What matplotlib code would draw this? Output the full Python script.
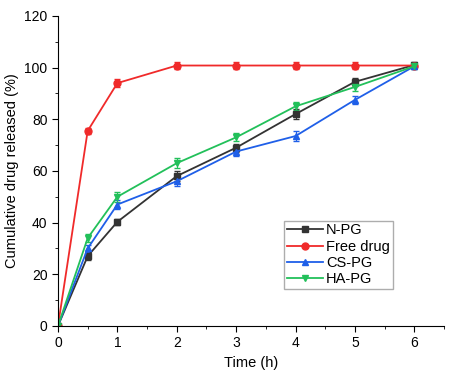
import numpy as np
import matplotlib
matplotlib.use("Agg")
import matplotlib.pyplot as plt
from matplotlib.ticker import MultipleLocator
from matplotlib.lines import Line2D

plt.rcParams['font.family'] = ['Liberation Sans', 'DejaVu Sans']

# release data (time in h, cumulative %)
t = [0, 0.5, 1, 2, 3, 4, 5, 6]
n_pg = [0, 27, 40.3, 58, 69, 82, 94.5, 101]
free_drug = [0, 75.5, 94, 100.8, 100.8, 100.8, 100.8, 100.8]
cs_pg = [0, 30, 47, 56, 67.5, 73.5, 87.5, 100.5]
ha_pg = [0, 34, 50, 63, 73, 85, 92.5, 100.5]

n_err = [0, 1.5, 1.2, 1.8, 1.5, 1.8, 1.5, 1.0]
free_err = [0, 1.2, 1.5, 1.5, 1.2, 1.2, 1.2, 1.0]
cs_err = [0, 1.5, 1.8, 1.8, 1.8, 2.0, 1.5, 1.0]
ha_err = [0, 1.5, 2.0, 2.0, 1.5, 1.5, 1.5, 1.0]

fig = plt.figure(figsize=(4.62, 3.79), dpi=100)
ax = fig.add_axes([0.1255, 0.14, 0.8355, 0.818])

series = [
    (n_pg, n_err, '#333333', 's', 'N-PG'),
    (free_drug, free_err, '#f02a2a', 'o', 'Free drug'),
    (cs_pg, cs_err, '#1f5fe8', '^', 'CS-PG'),
    (ha_pg, ha_err, '#22c05a', 'v', 'HA-PG'),
]
handles = []
for y, e, c, m, lab in series:
    ax.errorbar(t, y, yerr=e, color=c, marker=m, markersize=5, lw=1.3,
                elinewidth=0.8, capsize=2)
    handles.append(Line2D([], [], color=c, marker=m, markersize=5, lw=1.3, label=lab))

ax.set_xlim(0, 6.5)
ax.set_ylim(0, 120)
ax.xaxis.set_major_locator(MultipleLocator(1))
ax.xaxis.set_minor_locator(MultipleLocator(0.5))
ax.yaxis.set_major_locator(MultipleLocator(20))
ax.yaxis.set_minor_locator(MultipleLocator(10))
ax.spines['top'].set_visible(False)
ax.spines['right'].set_visible(False)
ax.tick_params(which='major', direction='out', length=4, labelsize=10)
ax.tick_params(which='minor', direction='out', length=2.5)

ax.set_xlabel('Time (h)', fontsize=10.5)
ax.set_ylabel('Cumulative drug released (%)', fontsize=10.5)

ax.legend(handles=handles, loc='upper left', bbox_to_anchor=(0.585, 0.34),
          fontsize=10.5, frameon=True, fancybox=False, edgecolor='#999999',
          handlelength=2.5, borderpad=0.2, labelspacing=0.15,
          handletextpad=0.2, borderaxespad=0)

fig.savefig('out.png', dpi=100)
